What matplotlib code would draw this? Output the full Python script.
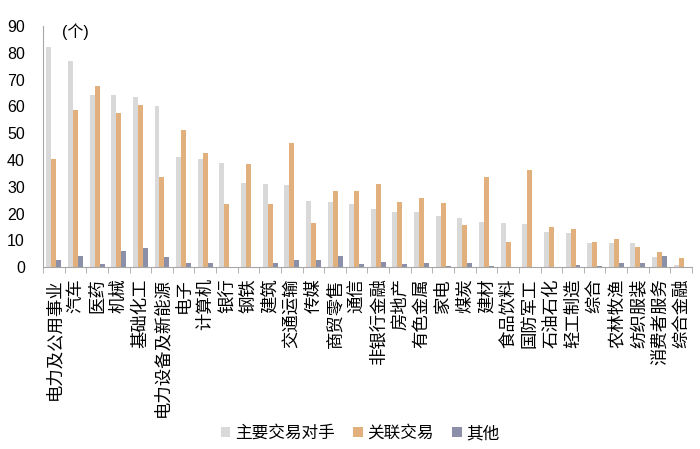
import matplotlib
matplotlib.use("Agg")
import matplotlib.pyplot as plt
import numpy as np

plt.rcParams["font.family"] = ["Liberation Sans", "Noto Sans CJK SC", "DejaVu Sans"]

industries = ["电力及公用事业", "汽车", "医药", "机械", "基础化工", "电力设备及新能源",
              "电子", "计算机", "银行", "钢铁", "建筑", "交通运输", "传媒", "商贸零售",
              "通信", "非银行金融", "房地产", "有色金属", "家电", "煤炭", "建材",
              "食品饮料", "国防军工", "石油石化", "轻工制造", "综合", "农林牧渔",
              "纺织服装", "消费者服务", "综合金融"]
main_party = [82, 77, 64.3, 64.3, 63.6, 60, 41.2, 40.4, 38.8, 31.5, 31.2, 30.7, 24.8,
              24.3, 23.7, 21.8, 20.6, 20.5, 19.2, 18.2, 17.0, 16.4, 16.2, 13.3, 12.9,
              9.2, 9.1, 9.1, 3.7, 0.9]
related = [40.3, 58.7, 67.5, 57.6, 60.4, 33.6, 51.1, 42.7, 23.6, 38.4, 23.4, 46.4, 16.4,
           28.4, 28.4, 31.0, 24.5, 25.7, 23.8, 15.7, 33.6, 9.5, 36.1, 15.0, 14.2,
           9.5, 10.4, 7.5, 5.8, 3.4]
other = [2.7, 4.2, 1.2, 6.2, 7.1, 3.7, 1.5, 1.5, 0, 0, 1.7, 2.6, 2.7, 4.1, 1.2, 2.0,
         1.2, 1.4, 0.6, 1.6, 0.5, 0.2, 0, 0, 0.7, 0.5, 1.7, 1.5, 4.0, 0]
series_names = ["主要交易对手", "关联交易", "其他"]
colors = ["#D9D9D9", "#E2B07C", "#8B90A8"]

fig = plt.figure(figsize=(7, 4.49), dpi=100)
ax = fig.add_axes([0.0614, 0.405, 0.9272, 0.537])

x = np.arange(len(industries))
w = 0.23
for k, (vals, name, c) in enumerate(zip([main_party, related, other], series_names, colors)):
    ax.bar(x + (k - 1) * w, vals, width=w, color=c, label=name)

ax.set_xlim(-0.5, len(industries) - 0.5)
ax.set_ylim(0, 90)
ax.set_yticks(np.arange(0, 91, 10))
ax.tick_params(axis="y", length=0, pad=13, labelsize=11.5)
ax.set_xticks(x)
ax.set_xticklabels(industries, rotation=90, fontsize=12.5)
ax.tick_params(axis="x", which="major", length=0, pad=8)
ax.set_xticks(np.arange(-0.5, len(industries), 1), minor=True)
ax.tick_params(axis="x", which="minor", length=4, color="#A6A6A6", direction="out")

for s in ["top", "right"]:
    ax.spines[s].set_visible(False)
ax.spines["left"].set_color("#A6A6A6")
ax.spines["bottom"].set_color("#A6A6A6")

ax.text(0.03, 0.975, "(个)", transform=ax.transAxes, fontsize=11.5, va="center", ha="left")

fig.legend(loc="center", bbox_to_anchor=(0.515, 0.035), ncol=3, frameon=False,
           fontsize=12, handlelength=0.55, handleheight=0.55, handletextpad=0.3,
           columnspacing=1.1)

fig.savefig("out.png", facecolor="white")
